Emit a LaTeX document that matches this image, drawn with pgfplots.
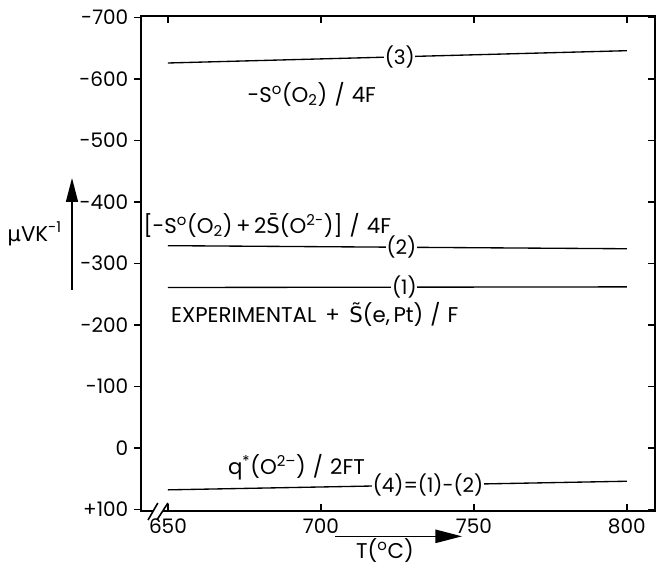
\documentclass[border=0pt]{standalone}
\usepackage{fontspec}
\setmainfont{Poppins}
\newfontfamily\dejavu{DejaVu Sans}
\usepackage{pgfplots}
\pgfplotsset{compat=1.18}
\usetikzlibrary{arrows.meta}
\begin{document}
\fontsize{16}{18}\selectfont
\begin{tikzpicture}[x=1pt,y=1pt]
\useasboundingbox (0,0) rectangle (492,425.25);
\pgfplotsset{mybase/.style={at={(105.75pt,42pt)}, anchor=south west, scale only axis,
  width=385.5pt, height=371.25pt,
  xmin=641.2, xmax=809.2, ymin=-702.4, ymax=102.4, y dir=reverse,
  xtick={650,700,750,800}, ytick={-700,-600,-500,-400,-300,-200,-100,0,100},
  major tick length=5pt,
  every tick label/.append style={font=\fontsize{15}{17}\selectfont},
  y tick label style={xshift=1pt},
  every tick/.style={black, line width=1.2pt}}}
\begin{axis}[mybase,
  axis line style={line width=1.5pt},
  tick align=inside, ytick pos=right, yticklabels={},
  xticklabels={650,700,750,800},
  clip=false]
\addplot[black, line width=1pt] coordinates {(650,-626) (800,-646)};
\addplot[black, line width=1pt] coordinates {(650,-329) (800,-324)};
\addplot[black, line width=1pt] coordinates {(650,-261) (800,-262)};
\addplot[black, line width=1pt] coordinates {(650,68) (800,54)};
\begin{scope}[every node/.style={fill=white, inner sep=0.5pt, font=\fontsize{15}{17}\selectfont}]
\node at (axis cs:725.8,-636) {(3)};
\node at (axis cs:726.3,-326.5) {(2)};
\node at (axis cs:727.3,-261) {(1)};
\node at (axis cs:735,60) {(4)=(1)-(2)};
\end{scope}
\node at (axis cs:697,-575) {-S\textsuperscript{o}(O\textsubscript{2})\,\,/\,\,4F};
\node at (axis cs:682.5,-362) {[-S\textsuperscript{o}(O\textsubscript{2})\,+\,2{\dejavu S\symbol{"0304}}(O\textsuperscript{2-})]\,\,/\,\,4F};
\node at (axis cs:698,-218) {EXPERIMENTAL\, + \,{\dejavu S\symbol{"0303}}(e,\,Pt)\,\,/\,\,F};
\node at (axis cs:692,32) {q\textsuperscript{*}(O\textsuperscript{2--})\,\,/\,\,2FT};
% axis break
\fill[white] (axis cs:645.2,95) rectangle (axis cs:648.4,110);
\draw[black, line width=1.2pt] (axis cs:643.5,117) -- (axis cs:646.7,89.4);
\draw[black, line width=1.2pt] (axis cs:646.4,117) -- (axis cs:650,89.4);
\end{axis}
\begin{axis}[mybase, axis y line*=left, hide x axis, tick align=outside,
  yticklabels={-700,-600,-500,-400,-300,-200,-100,0,+100},
  axis line style={line width=1.5pt}]
\end{axis}
\draw[-{Triangle[length=18pt,width=9pt]}, line width=1.2pt] (54,207.75) -- (54,291.75);
\node at (26,250) {{\dejavu\symbol{"00B5}}VK\textsuperscript{-1}};
\draw[-{Triangle[length=20pt,width=10pt]}, line width=1.2pt] (251.25,23) -- (346.5,23);
\node at (288.75,12) {T(\textsuperscript{o}C)};
\end{tikzpicture}
\end{document}
